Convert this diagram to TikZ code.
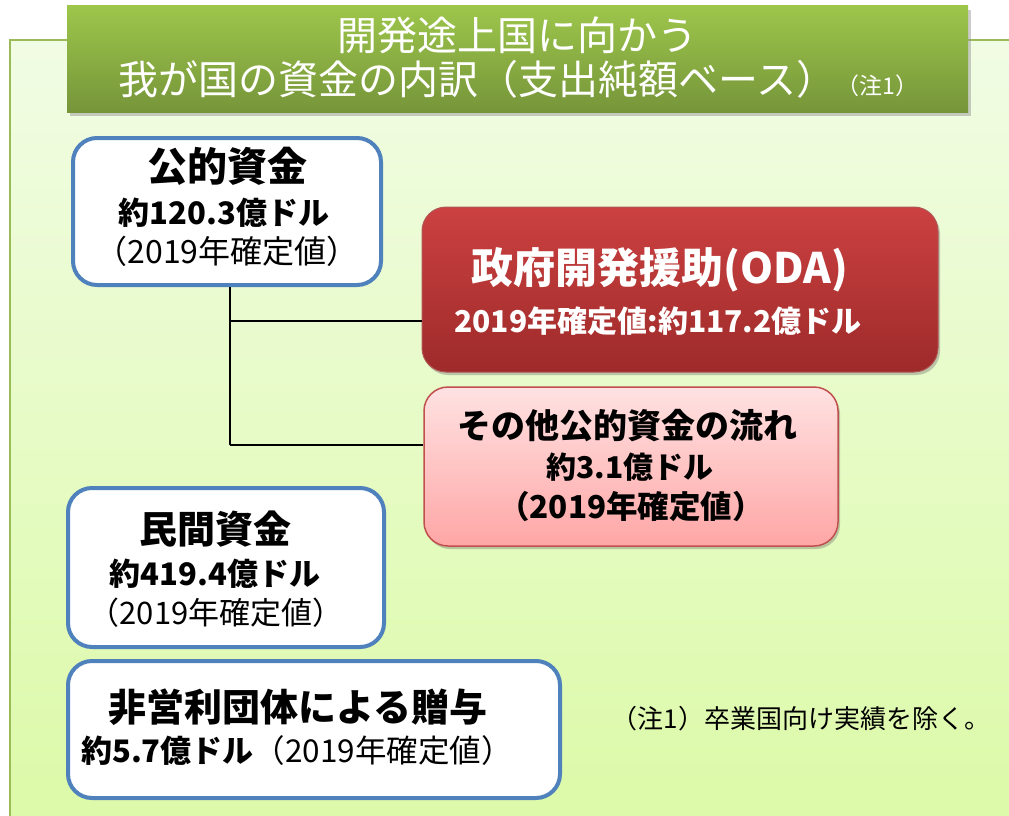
\documentclass[tikz,border=0pt]{standalone}
\usepackage{fontspec}
\setmainfont{Noto Sans CJK JP}
\usetikzlibrary{shadows}
\definecolor{panelT}{HTML}{F1FCE4}
\definecolor{panelB}{HTML}{DCFAA8}
\definecolor{panelE}{HTML}{9BBB59}
\definecolor{titleT}{HTML}{9DC64B}
\definecolor{titleB}{HTML}{76953A}
\definecolor{blueE}{HTML}{4F81BD}
\definecolor{odaT}{HTML}{CC4141}
\definecolor{odaB}{HTML}{9E2A2A}
\definecolor{pinkT}{HTML}{FFE2E2}
\definecolor{pinkB}{HTML}{FFA6A6}
\definecolor{pinkE}{HTML}{C0504D}
\tikzset{
  bluebox/.style={draw=blueE, line width=4pt, fill=white, rounded corners=24pt, align=center, inner sep=0pt},
  odabox/.style={rounded corners=24pt, top color=odaT, bottom color=odaB, draw=odaB!80!white, line width=1pt, align=center, inner sep=0pt, text=white},
  pinkbox/.style={rounded corners=24pt, top color=pinkT, bottom color=pinkB, draw=pinkE, line width=1.5pt, align=center, inner sep=0pt},
  conn/.style={black, line width=1.3pt},
  softshadow/.style={drop shadow={shadow xshift=2pt, shadow yshift=-3pt, opacity=0.35, fill=black!60}}
}
\begin{document}
\begin{tikzpicture}[x=1pt,y=-1pt]
\useasboundingbox (0,0) rectangle (1009,816);
\fill[white] (0,0) rectangle (1009,816);
% panel
\shade[top color=panelT, bottom color=panelB] (10,40) rectangle (1012,820);
\draw[panelE, line width=2pt] (1012,40) -- (10,40) -- (10,820);
% title
\fill[black!40, opacity=0.5] (70,10) rectangle (971,116);
\shade[top color=titleT, bottom color=titleB] (67,6) rectangle (968,112);
\node[text=white, font=\fontsize{40}{42}\selectfont] (t1) at (517,35) {開発途上国に向かう};
\node[text=white, font=\fontsize{40}{42}\selectfont, anchor=base west] (t2) at (115,94) {我が国の資金の内訳（支出純額ベース）\fontsize{23}{25}\selectfont（注1）};
% boxes
\node[bluebox, minimum width=308pt, minimum height=147pt] (pub) at (227,211.5) {};
\node[font=\bfseries\fontsize{40}{42}\selectfont] at (227,166) {公的資金};
\node[font=\bfseries\fontsize{31}{34}\selectfont] at (224,213) {約120.3億ドル};
\node[font=\fontsize{32}{34}\selectfont] at (227,251) {（2019年確定値）};

\node[odabox, softshadow, minimum width=516pt, minimum height=165pt] (oda) at (680,289.5) {};
\node[text=white, font=\bfseries\fontsize{42}{44}\selectfont] at (660,270) {政府開発援助(ODA)};
\node[text=white, font=\bfseries\fontsize{30}{32}\selectfont] at (658,321) {2019年確定値:約117.2億ドル};

\node[pinkbox, softshadow, minimum width=414pt, minimum height=159pt] (oth) at (631,466.5) {};
\node[font=\bfseries\fontsize{34}{36}\selectfont] at (627,426) {その他公的資金の流れ};
\node[font=\bfseries\fontsize{30}{34}\selectfont] at (630,467) {約3.1億ドル};
\node[font=\bfseries\fontsize{31.5}{34}\selectfont] at (631,507) {（2019年確定値）};

\node[bluebox, minimum width=316pt, minimum height=159pt] (pri) at (226,567.5) {};
\node[font=\bfseries\fontsize{38}{40}\selectfont] at (215,529) {民間資金};
\node[font=\bfseries\fontsize{31}{34}\selectfont] at (215,574) {約419.4億ドル};
\node[font=\fontsize{31}{34}\selectfont] at (216,613) {（2019年確定値）};

\node[bluebox, minimum width=492pt, minimum height=137pt] (npo) at (314,729.5) {};
\node[font=\bfseries\fontsize{38}{40}\selectfont] at (298,707) {非営利団体による贈与};
\node[font=\fontsize{31}{34}\selectfont] at (297,751) {\bfseries 約5.7億ドル\mdseries\fontsize{31.5}{34}\selectfont（2019年確定値）};

\node[font=\fontsize{26}{28}\selectfont] (note) at (801,719) {（注1）卒業国向け実績を除く。};

% connectors
\coordinate (j1) at (230,321);
\coordinate (j2) at (230,445);
\draw[conn] (pub.south -| j1) -- (j2);
\draw[conn] (j1) -- (j1 -| oda.west);
\draw[conn] (j2) -- (j2 -| oth.west);
\end{tikzpicture}
\end{document}
